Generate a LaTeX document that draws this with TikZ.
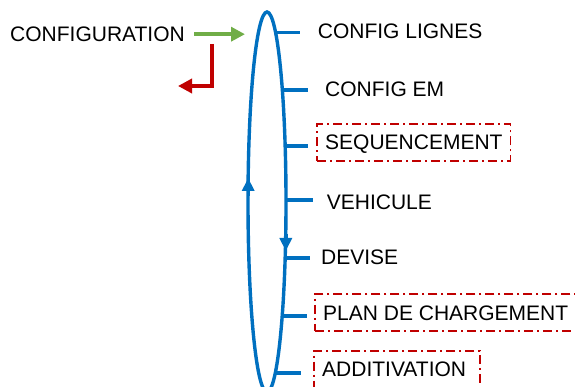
\documentclass[tikz,border=0pt]{standalone}
\usepackage{fontspec}
\setmainfont{Liberation Sans}
\usetikzlibrary{arrows.meta,shapes.geometric}
\definecolor{loopblue}{RGB}{0,112,192}
\definecolor{arrgreen}{RGB}{112,173,71}
\definecolor{arrred}{RGB}{192,0,0}
\begin{document}
\begin{tikzpicture}[x=1pt,y=-1pt,
  lbl/.style={inner sep=0pt, text height=15pt, text depth=0pt, anchor=base west,
    font=\fontsize{21}{25}\selectfont},
  boxlbl/.style={lbl, draw=arrred, line width=1.8pt,
    dash pattern=on 9pt off 4pt on 2pt off 4pt, inner xsep=8pt, inner ysep=11pt},
  tick/.style={draw=loopblue, line width=3.4pt},
  garrow/.style={draw=arrgreen, line width=3.4pt, -{Triangle[length=14pt,width=14pt]}},
  rarrow/.style={draw=arrred, line width=3.4pt, -{Triangle[length=14pt,width=14pt]}},
  looparr/.style={draw=loopblue, line width=3.4pt, -{Triangle[length=13pt,width=12pt]}}]
\useasboundingbox[fill=white] (0,0) rectangle (575,387);
% loop ellipse
\node[draw=loopblue, line width=3.4pt, ellipse, minimum width=38pt, minimum height=380pt,
  inner sep=0pt] (loop) at (267,202) {};
\draw[looparr] (248.2,196) -- (248.2,178);
\draw[looparr] (285.8,234) -- (285.8,251);
% points on the ellipse
\coordinate (e1) at (275.5,32.3);
\coordinate (e2) at (282.3,90);
\coordinate (e3) at (285.2,146);
\coordinate (e4) at (286,200);
\coordinate (e5) at (285.2,258);
\coordinate (e6) at (282.2,316);
\coordinate (e7) at (275.3,373);
% labels
\node[lbl] (cfg) at (10,41.7) {CONFIGURATION};
\node[lbl] (n1) at (317.7,38.3) {CONFIG LIGNES};
\node[lbl] (n2) at (325,97) {CONFIG EM};
\node[boxlbl] (n3) at (316.3,150) {SEQUENCEMENT};
\node[lbl] (n4) at (326.7,210) {VEHICULE};
\node[lbl] (n5) at (321,265) {DEVISE};
\node[boxlbl] (n6) at (314.3,320) {PLAN DE CHARGEMENT};
\node[boxlbl, text width=150pt, align=left] (n7) at (313.3,376.7) {ADDITIVATION};
% ticks
\draw[tick, shorten >=17.7pt] (e1) -- (e1 -| n1.west);
\draw[tick, shorten >=17pt] (e2) -- (e2 -| n2.west);
\draw[tick, shorten >=8.3pt] (e3) -- (e3 -| n3.west);
\draw[tick, shorten >=14pt] (e4) -- (e4 -| n4.west);
\draw[tick, shorten >=11pt] (e5) -- (e5 -| n5.west);
\draw[tick, shorten >=7pt] (e6) -- (e6 -| n6.west);
\draw[tick, shorten >=12.6pt] (e7) -- (e7 -| n7.west);
% arrows at the left
\coordinate (gtip) at (245,33.3);
\draw[garrow, shorten <=9pt] (cfg.east) -- (cfg.east -| gtip);
\coordinate (rstart) at (212,44);
\coordinate (rtip) at (178,86);
\draw[rarrow] (rstart) |- (rtip);
\end{tikzpicture}
\end{document}
